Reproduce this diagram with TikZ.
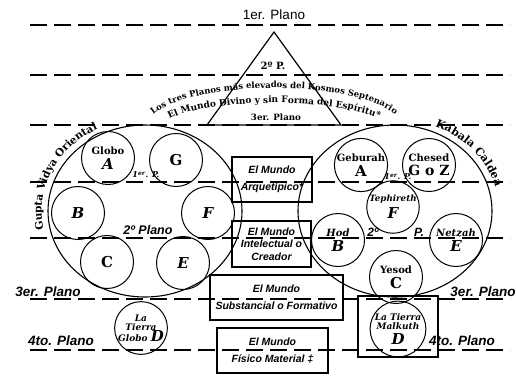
\documentclass[tikz,border=0pt]{standalone}
\usepackage{fontspec}
\setmainfont{DejaVu Serif}
\setsansfont{Liberation Sans}
\usetikzlibrary{decorations.text}

\newcommand{\letra}[1]{{\fontsize{15}{15}\selectfont #1}}
\newcommand{\letrai}[1]{{\itshape\fontsize{15}{15}\selectfont #1}}

\begin{document}
\begin{tikzpicture}[x=1pt, y=-1pt,
	plano/.style={dash pattern=on 17pt off 7pt, line width=1.4pt},
	sefira/.style={circle, draw, line width=1pt, minimum size=53pt, inner sep=0pt,
		align=center, font=\bfseries\fontsize{10}{10}\selectfont},
	mundo/.style={draw, line width=2.4pt, inner sep=0pt, align=center,
		font=\sffamily\bfseries\itshape\fontsize{10.5}{17}\selectfont},
	etiq/.style={font=\sffamily\bfseries\itshape\fontsize{13.5}{14}\selectfont},
	curva/.style={decorate, decoration={text along path, text align=center}}]
	\useasboundingbox (0,0) rectangle (516,375);

	% planos
	\foreach \y in {25,75,125,182,238,299,350}
		\draw[plano] (30,\y) -- (510,\y);

	% triangulo superior
	\coordinate (cima) at (274,32);
	\coordinate (izq) at (207,125);
	\coordinate (der) at (341,125);
	\draw[line width=1.2pt] (cima) -- (izq) -- (der) -- cycle;
	\node[font=\sffamily\fontsize{13.5}{14}\selectfont] (p1) at (274,15) {1er. Plano};
	\node[font=\bfseries\fontsize{10}{10}\selectfont] (p2) at (273,66) {2º P.};
	\node[font=\bfseries\fontsize{8.7}{9}\selectfont] (p3) at (276,117) {3er. Plano};
	\path[curva, decoration={text={|\bfseries\fontsize{8.5}{9}\selectfont|Los tres Planos más elevados del Kosmos Septenario}}]
		(150.4,117.6) arc[start angle=195, end angle=345, x radius=128, y radius=40];
	\path[curva, decoration={text={|\bfseries\fontsize{9}{9}\selectfont|El Mundo Divino y sin Forma del Espíritu*}}]
		(168.8,119.4) arc[start angle=200, end angle=340, x radius=112, y radius=25];

	% oriente
	\draw[line width=1.1pt] (145,211) ellipse [x radius=97, y radius=86];
	\path[curva, decoration={text={|\bfseries\fontsize{10.5}{11}\selectfont|Gupta Vidya Oriental}}]
		(44.6,233.3) arc[start angle=166, end angle=245, x radius=103, y radius=92];
	\node[sefira] (gA) at (108,158) {Globo\\[3pt]\letrai{A}};
	\node[sefira] (gG) at (176,160) {\letra{G}};
	\node[sefira] (gB) at (78,213) {\letrai{B}};
	\node[sefira] (gF) at (208,213) {\letrai{F}};
	\node[sefira] (gC) at (107,262) {\letra{C}};
	\node[sefira] (gE) at (183,263) {\letrai{E}};
	\node[sefira, minimum size=51pt, font=\bfseries\itshape\fontsize{9}{9}\selectfont] (gD) at (141,328)
		{La\\Tierra\\[-1pt]Globo \letrai{D}};
	\node[font=\bfseries\itshape\fontsize{8}{9}\selectfont] (l1) at (146,175) {1\textsuperscript{er}. P.};
	\node[font=\sffamily\bfseries\itshape\fontsize{12.5}{13}\selectfont] (l2) at (148,230) {2º Plano};

	% caldea
	\draw[line width=1.1pt] (395,211) ellipse [x radius=97, y radius=86];
	\path[curva, decoration={text={|\bfseries\fontsize{11}{11}\selectfont|Kabala Caldea}}]
		(427.1,123.6) arc[start angle=288, end angle=350, x radius=104, y radius=92];
	\node[sefira] (kA) at (361,165) {Geburah\\[3pt]\letra{A}};
	\node[sefira] (kG) at (429,165) {Chesed\\[3pt]{\fontsize{14}{14}\selectfont G o Z}};
	\node[sefira, minimum size=50pt, font=\bfseries\itshape\fontsize{8.7}{9}\selectfont] (kF) at (393,207) {Tephireth\\[3pt]\letrai{F}};
	\node[sefira, font=\bfseries\itshape\fontsize{10}{10}\selectfont] (kB) at (338,240) {Hod\\[3pt]\letrai{B}};
	\node[sefira, font=\bfseries\itshape\fontsize{10}{10}\selectfont] (kE) at (456,240) {Netzah\\[3pt]\letrai{E}};
	\node[sefira] (kC) at (396,277) {Yesod\\[3pt]\letra{C}};
	\node[sefira, minimum size=51pt, font=\bfseries\itshape\fontsize{9}{9}\selectfont] (kD) at (398,329)
		{La Tierra\\Malkuth\\[3pt]\letrai{D}};
	\node[draw, line width=2.4pt, minimum width=80pt, minimum height=61pt] (marco) at (398,326.5) {};
	\node[font=\bfseries\itshape\fontsize{8}{9}\selectfont] (r1) at (398,177) {1\textsuperscript{er}. P.};
	\node[font=\sffamily\bfseries\itshape\fontsize{12}{12}\selectfont] (r2) at (373,232) {2º};
	\node[font=\sffamily\bfseries\itshape\fontsize{12}{12}\selectfont] (r2p) at (419,232) {P.};

	% mundos
	\node[mundo, minimum width=80pt, minimum height=45pt] (arq) at (272,179.5) {El Mundo\\Arquetípico*};
	\node[mundo, minimum width=79pt, minimum height=46pt, font=\sffamily\bfseries\itshape\fontsize{10.5}{12.5}\selectfont]
		(int) at (271.5,244) {El Mundo\\Intelectual o\\Creador};
	\node[mundo, minimum width=133pt, minimum height=45pt] (sub) at (276.5,297.5) {El Mundo\\Substancial o Formativo};
	\node[mundo, minimum width=111pt, minimum height=45pt] (fis) at (272.5,350.5) {El Mundo\\Físico Material ‡};

	% etiquetas de planos
	\node[etiq] (i3) at (48,292) {3er. Plano};
	\node[etiq] (i4) at (61,341) {4to. Plano};
	\node[etiq] (d3) at (483,292) {3er. Plano};
	\node[etiq] (d4) at (462,341) {4to. Plano};
\end{tikzpicture}
\end{document}
